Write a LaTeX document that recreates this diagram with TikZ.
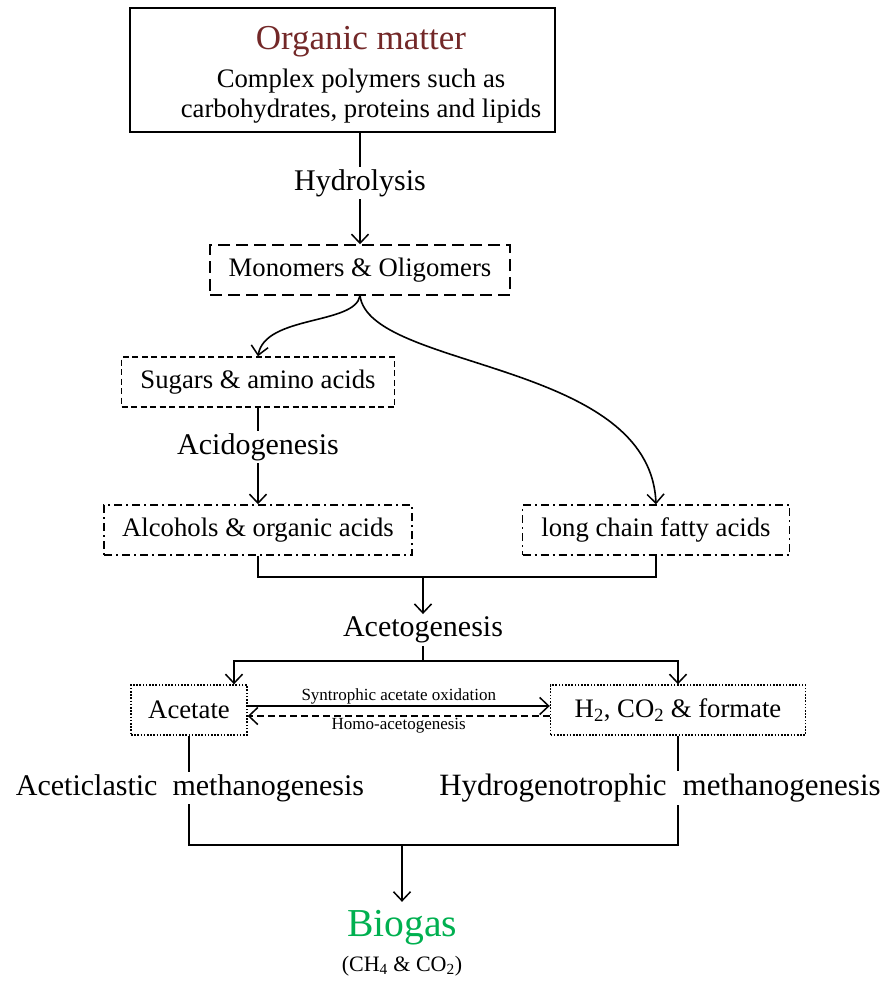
\documentclass[tikz,border=0pt]{standalone}
\usepackage{fontspec}
\setmainfont{Liberation Serif}
\usetikzlibrary{arrows.meta}

\begin{document}
\begin{tikzpicture}[x=1pt, y=-1pt,
    line width=1.6pt,
    >={Straight Barb[length=9pt,width=17pt,line width=1.5pt]},
    boxtext/.style={font=\fontsize{26.7}{30}\selectfont, inner sep=0pt, minimum height=50pt},
    stage/.style={font=\fontsize{30}{34}\selectfont, inner sep=2pt},
    monobox/.style={boxtext, draw, line width=1.5pt, dash pattern=on 12pt off 6pt},
    sugarbox/.style={boxtext, draw, line width=1.5pt, dash pattern=on 6pt off 3.5pt},
    acidbox/.style={boxtext, draw, line width=1.5pt, dash pattern=on 8pt off 4pt on 2pt off 4pt},
    gasbox/.style={boxtext, draw, line width=1.4pt, dash pattern=on 1.6pt off 1.6pt},
    smalltext/.style={font=\fontsize{17}{19}\selectfont, inner sep=1pt}]
    \useasboundingbox (0,0) rectangle (893,983);

    % Organic matter
    \node[draw, line width=1.6pt, minimum width=425pt, minimum height=124pt, inner sep=0pt] (organic) at (342.5,70) {};
    \node[font=\fontsize{35}{38}\selectfont, text={rgb,255:red,115;green,40;blue,40}, inner sep=0pt] (orgtitle) at (361,42) {Organic matter};
    \node[font=\fontsize{26.7}{30}\selectfont, align=center, inner sep=0pt] (orgtext) at (361,96) {Complex polymers such as\\carbohydrates, proteins and lipids};

    % Hydrolysis
    \node[stage] (hydro) at (360,183) {Hydrolysis};
    \node[monobox, minimum width=300pt] (mono) at (360,270) {Monomers \& Oligomers};
    \draw (organic.south -| hydro) -- (hydro.north);
    \draw[->] (hydro.south) -- (mono.north);

    % Acidogenesis
    \node[sugarbox, minimum width=273pt] (sugars) at (258,382) {Sugars \& amino acids};
    \node[stage] (acido) at (258,447) {Acidogenesis};
    \node[acidbox, minimum width=308pt] (alcohols) at (258,530) {Alcohols \& organic acids};
    \node[acidbox, minimum width=267pt] (lcfa) at (656,530) {long chain fatty acids};
    \draw[->] (mono.south) .. controls (355,325) and (265,315) .. (sugars.north);
    \draw[->] (mono.south) .. controls (370,370) and (650,360) .. (lcfa.north);
    \draw (sugars.south) -- (acido.north);
    \draw[->] (acido.south) -- (alcohols.north);

    % Acetogenesis
    \node[stage] (aceto) at (423,630) {Acetogenesis};
    \coordinate (join) at (423,577);
    \draw (alcohols.south) |- (join) -| (lcfa.south);
    \draw[->] (join) -- (aceto.north);

    % Acetate and H2
    \node[gasbox, minimum width=116pt] (acetate) at (189,710) {Acetate};
    \node[gasbox, minimum width=255pt] (htwo) at (678,710) {H\textsubscript{2}, CO\textsubscript{2} \& formate};
    \coordinate (split) at (423,661);
    \draw (aceto.south) -- (split);
    \draw[->] (split) -| ([xshift=45pt]acetate.north);
    \draw[->] (split) -| (htwo.north);
    \draw[->] ([yshift=4pt]acetate.east) -- node[smalltext, above] (sao) {Syntrophic acetate oxidation} ([yshift=4pt]htwo.west);
    \draw[->, dashed, dash pattern=on 7pt off 4pt] ([yshift=-6pt]htwo.west) -- node[smalltext, below] (homo) {Homo-acetogenesis} ([yshift=-6pt]acetate.east);

    % Methanogenesis
    \node[stage] (acetic) at (190,788) {Aceticlastic~~methanogenesis};
    \node[stage, font=\fontsize{31}{34}\selectfont] (hydrogeno) at (660,788) {Hydrogenotrophic\hspace{16pt}methanogenesis};
    \draw (acetate.south) -- (acetic.north -| acetate.south);
    \draw (htwo.south) -- (hydrogeno.north -| htwo.south);
    \node[font=\fontsize{39.6}{42}\selectfont, text={rgb,255:red,0;green,176;blue,80}, inner sep=0pt] (biogas) at (402,928) {Biogas};
    \coordinate (meet) at (402,845);
    \draw (acetic.south -| acetate.south) |- (meet) -| (hydrogeno.south -| htwo.south);

    % Biogas
    \node[font=\fontsize{22}{24}\selectfont, inner sep=0pt] (gasmix) at (402,966) {(CH\textsubscript{4} \& CO\textsubscript{2})};
    \draw[->] (meet) -- ([yshift=8pt]biogas.north);
\end{tikzpicture}
\end{document}
